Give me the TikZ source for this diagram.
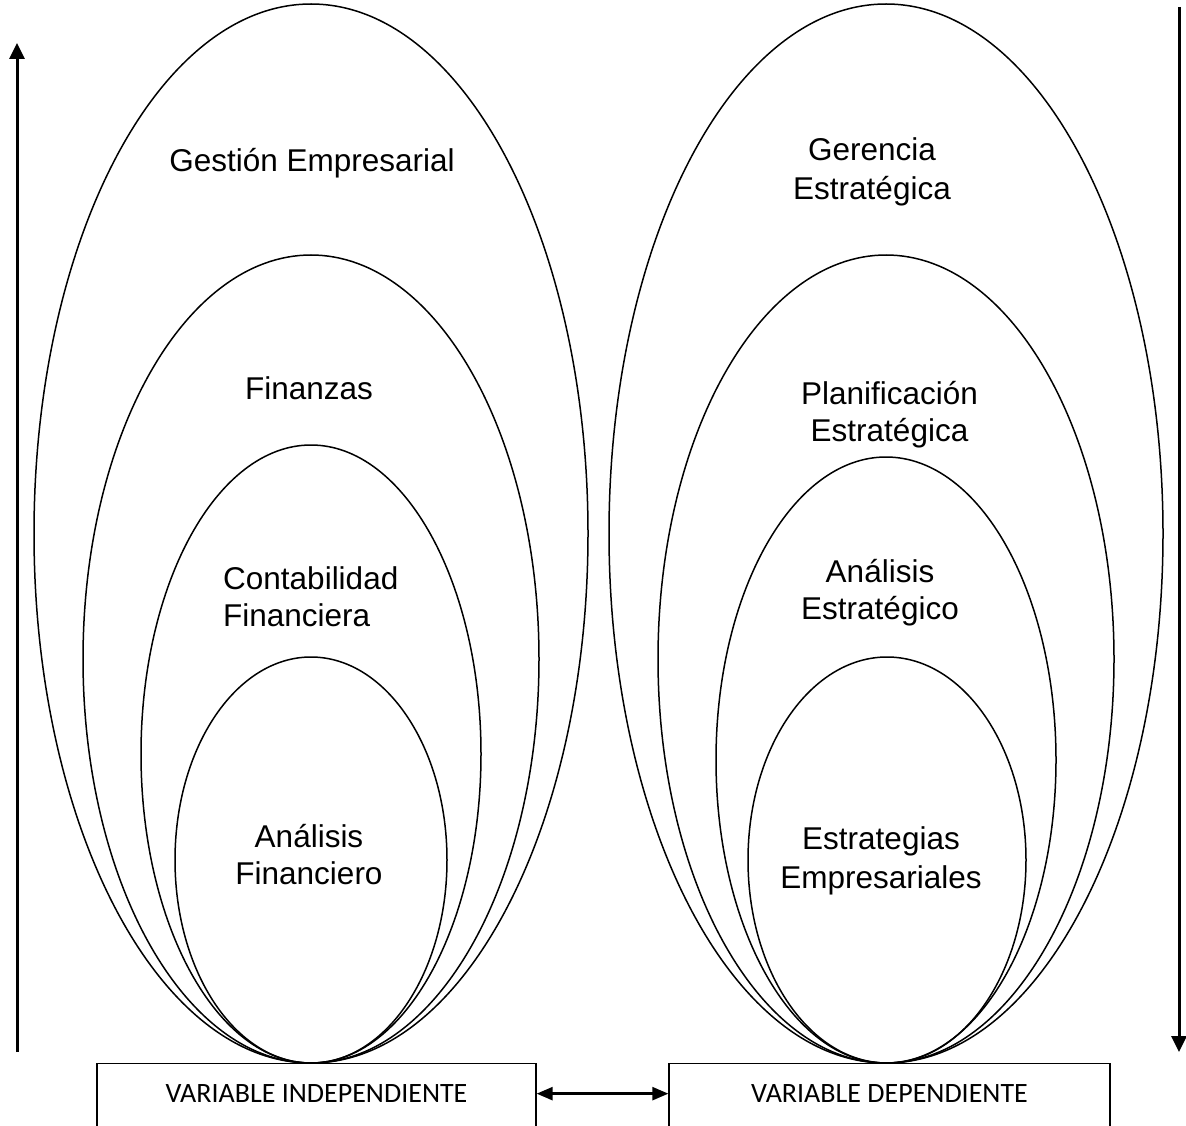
\documentclass[tikz,border=0pt]{standalone}
\usepackage{fontspec}
\setmainfont{Liberation Sans}
\newfontfamily\calibri{Carlito}
\usetikzlibrary{arrows.meta}
\begin{document}
\begin{tikzpicture}[x=1pt,y=-1pt,
  ring/.style={line width=1.5pt},
  lbl/.style={font=\fontsize{31.5}{37}\selectfont, align=center, inner sep=0pt, anchor=base},
  varbox/.style={draw, line width=1.3pt, minimum width=439pt, inner sep=0pt, text height=39pt, text depth=28pt, font=\calibri\fontsize{28}{32}\selectfont, anchor=north},
  bigarrow/.style={line width=3pt, -{Triangle[length=16pt,width=15pt]}},
  linkarrow/.style={line width=2.4pt, {Triangle[length=16pt,width=13pt]}-{Triangle[length=16pt,width=13pt]}}
]
\useasboundingbox (0,0) rectangle (1186,1126);

% left nest
\draw[ring] (311,533.5) ellipse [x radius=277, y radius=529.5];
\draw[ring] (311,659) ellipse [x radius=228, y radius=404];
\draw[ring] (311,754) ellipse [x radius=170, y radius=309];
\draw[ring] (311,860) ellipse [x radius=136, y radius=203];
% right nest
\draw[ring] (886,533.5) ellipse [x radius=277, y radius=529.5];
\draw[ring] (886,659) ellipse [x radius=228, y radius=404];
\draw[ring] (886,760) ellipse [x radius=170, y radius=303];
\draw[ring] (887,860) ellipse [x radius=139, y radius=203];

% labels (base anchor = baseline of the last line)
\node[lbl] (ge) at (312,172) {Gestión Empresarial};
\node[lbl] (fi) at (309,399) {Finanzas};
\node[lbl, align=left, anchor=base west] (cf) at (223,626) {Contabilidad\\Financiera};
\node[lbl] (af) at (309,884) {Análisis\\Financiero};
\node[lbl, font=\fontsize{31.5}{39}\selectfont] (gs) at (872,200) {Gerencia\\Estratégica};
\node[lbl] (pe) at (889.5,441) {Planificación\\Estratégica};
\node[lbl] (ae) at (880,619) {Análisis\\Estratégico};
\node[lbl, font=\fontsize{31.5}{39}\selectfont] (ee) at (881,888) {Estrategias\\Empresariales};

% boxes
\node[varbox] (vi) at (316.5,1063) {VARIABLE INDEPENDIENTE};
\node[varbox, minimum width=441pt] (vd) at (889.5,1063) {VARIABLE DEPENDIENTE};
\draw[linkarrow] ([yshift=3.5pt]vi.east) -- ([yshift=3.5pt]vd.west);

% side arrows
\coordinate (la0) at (17,1052);
\coordinate (la1) at (17,43);
\draw[bigarrow] (la0) -- (la1);
\coordinate (ra0) at (1179,7);
\coordinate (ra1) at (1179,1052);
\draw[bigarrow] (ra0) -- (ra1);
\end{tikzpicture}
\end{document}
